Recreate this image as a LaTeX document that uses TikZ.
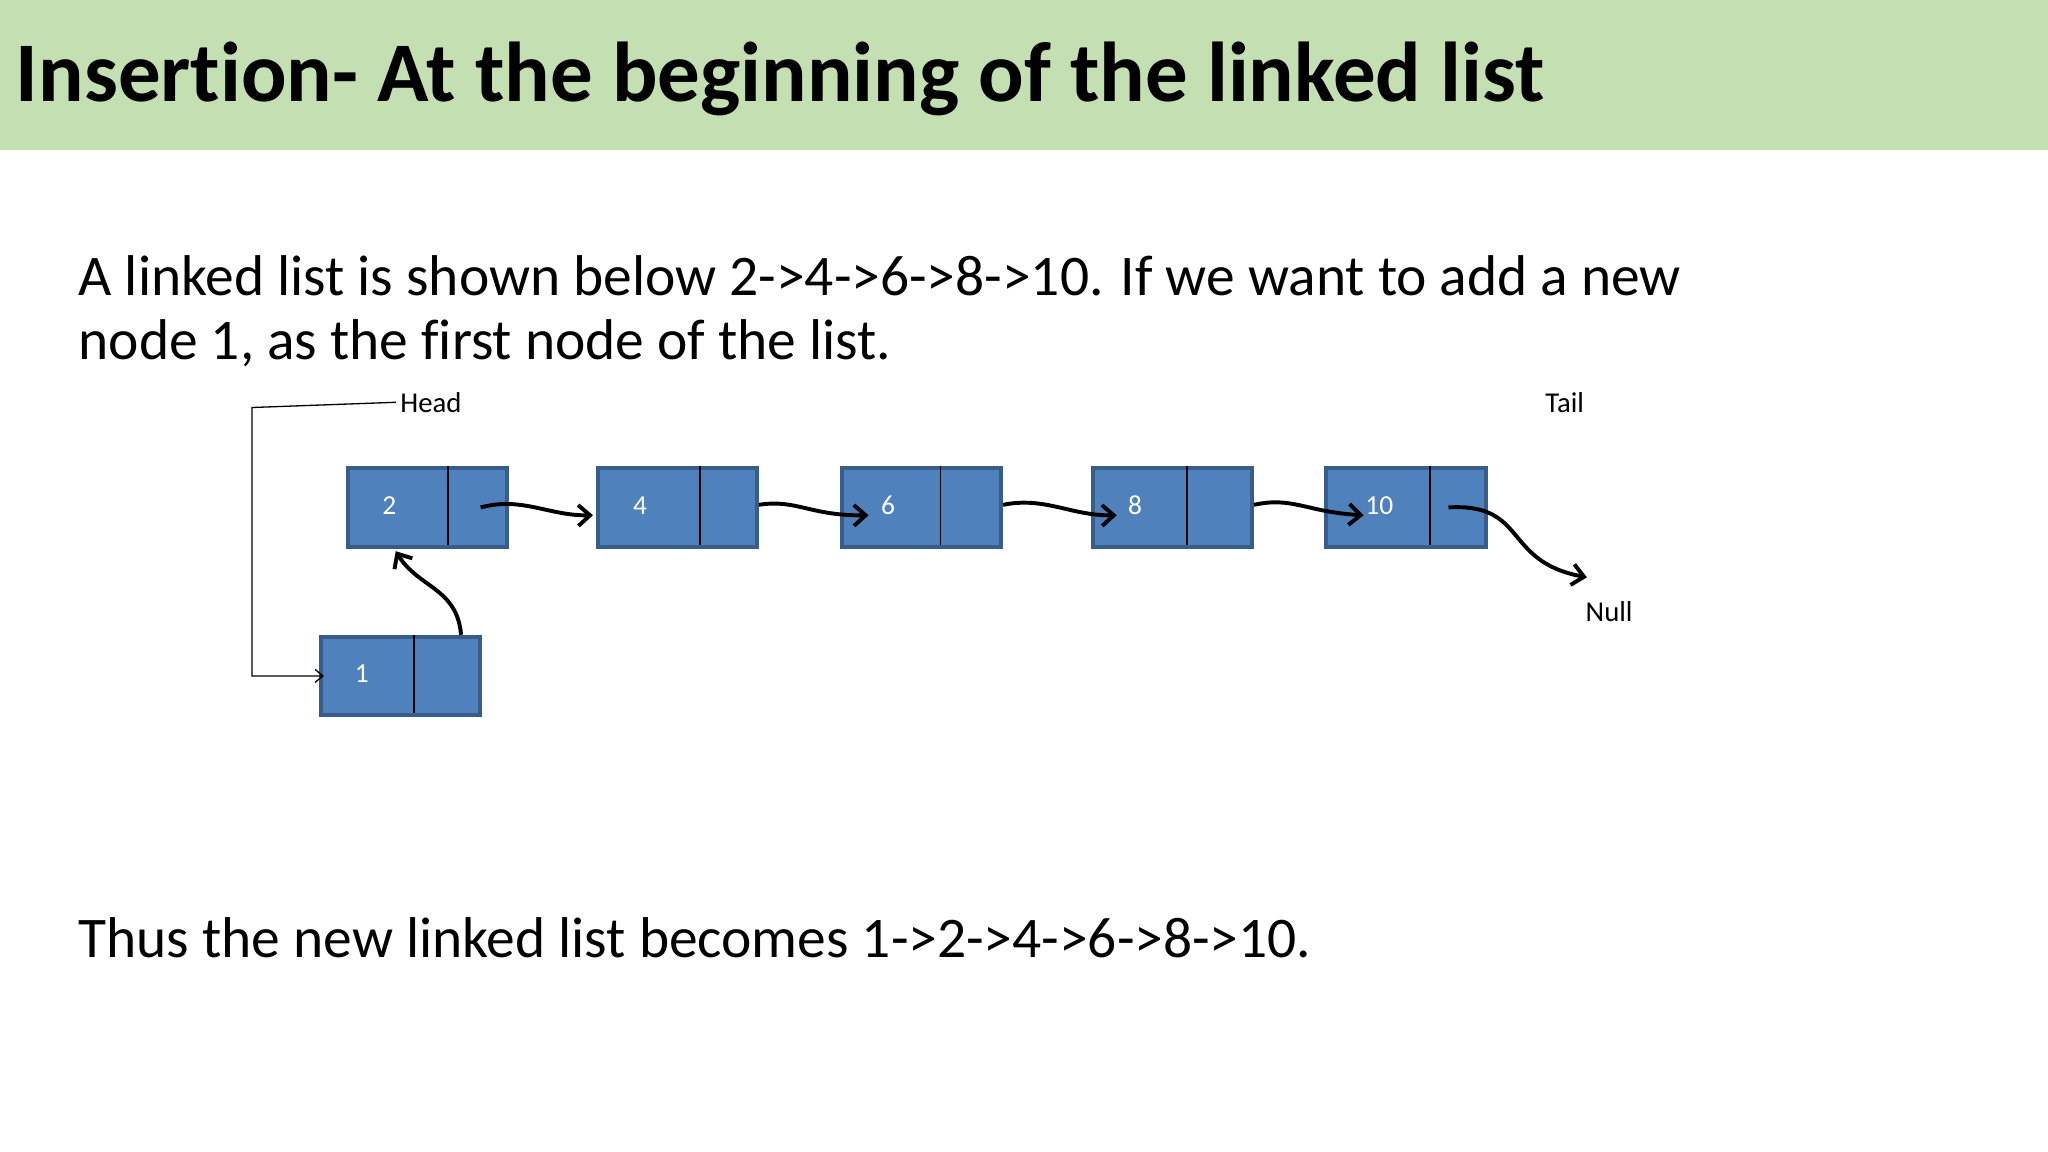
\documentclass[tikz,border=0pt]{standalone}
\usepackage{fontspec}
\setmainfont{Carlito}[Ligatures=NoCommon]
\usetikzlibrary{calc,arrows.meta}
\definecolor{band}{HTML}{C4DFB2}
\definecolor{cellfill}{HTML}{4F81BD}
\definecolor{celldraw}{HTML}{385D8A}
\tikzset{
    cell/.style={draw=celldraw, line width=3pt, fill=cellfill, anchor=north west, inner sep=0pt},
    link/.style={-{Straight Barb[length=9pt,width=16pt,line width=3pt]}, line width=3pt, black},
    bodytext/.style={anchor=base west, inner sep=0pt, font=\fontsize{44}{50}\selectfont}
}
\begin{document}
\begin{tikzpicture}[x=1pt,y=-1pt]
\useasboundingbox (0,0) rectangle (1568,882);
\fill[band] (0,0) rectangle (1568,115);
\node[anchor=base west, inner sep=0pt, font=\fontsize{65}{70}\selectfont\bfseries] (title) at (12,78) {Insertion- At the beginning of the linked list};
\node[bodytext] (intro) at (60,226) {A linked list is shown below 2->4->6->8->10. If we want to add a new};
\node[bodytext] (intro2) at (60,275) {node 1, as the first node of the list.};
\node[bodytext] (result) at (60,733) {Thus the new linked list becomes 1->2->4->6->8->10.};
% list cells: x/y/divider/name/value/labelx
\foreach \x/\y/\d/\p/\v/\lx in {265/357/343/n2/2/298, 456/357/536/n4/4/490, 643/357/720/n6/6/680, 835/357/909/n8/8/869, 1014/357/1095/n10/10/1056, 244/486/317/n1/1/277}{
    \node[cell, minimum width=122, minimum height=60] (\p) at (\x,\y) {};
    \draw[black, line width=1.2pt] (\d,\y) -- ++(0,60);
    \node[white, font=\fontsize{21}{22}\selectfont] (\p-val) at (\lx,\y+30) {\v};
}
\node[font=\fontsize{22}{24}\selectfont] (head) at (330,308) {Head};
\node[font=\fontsize{22}{24}\selectfont] (tail) at (1198,308) {Tail};
\node[font=\fontsize{22}{24}\selectfont] (null) at (1232,468) {Null};
\coordinate (nullend) at (1215,442);
\draw[-{Straight Barb[length=6pt,width=10pt]}, line width=1pt] (head.west) -- (193,312) |- ($(n1.west)+(4,0)$);
\draw[link] ($(n2.east)+(-22,0)$) .. controls (400,380) and (420,395) .. ($(n4.west)+(-2,6)$);
\draw[link] ($(n4.east)+(0,-2)$) .. controls (610,382) and (620,395) .. ($(n6.west)+(22,6)$);
\draw[link] ($(n6.east)+(0,-2)$) .. controls (800,380) and (820,395) .. ($(n8.west)+(20,6)$);
\draw[link] ($(n8.east)+(0,-2)$) .. controls (990,380) and (1000,392) .. ($(n10.west)+(30,6)$);
\draw[link] ($(n10.east)+(-30,0)$) .. controls (1170,385) and (1150,430) .. (nullend);
\draw[link] ($(n1.north east)+(-16,0)$) .. controls (350,450) and (320,450) .. ($(n2.south west)+(38,2)$);
\end{tikzpicture}
\end{document}
